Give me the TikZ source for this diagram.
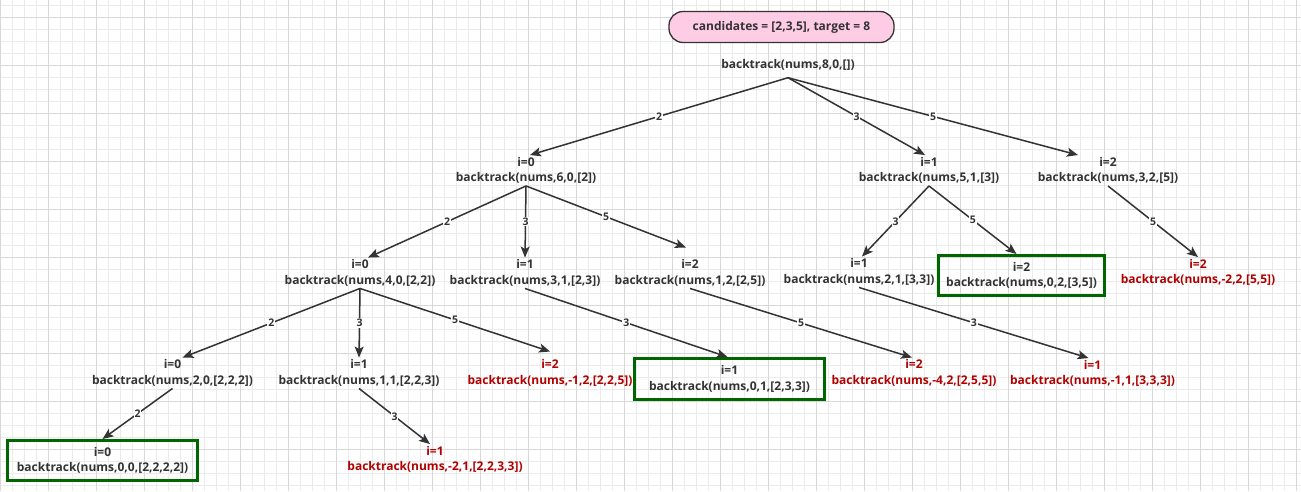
\documentclass[tikz,border=0pt]{standalone}
\usepackage{fontspec}
\setmainfont{Open Sans}
\usetikzlibrary{arrows.meta}
\definecolor{txt}{HTML}{333333}
\definecolor{dred}{HTML}{B20000}
\definecolor{gbox}{HTML}{006600}
\definecolor{pinkf}{HTML}{FFCCE6}
\definecolor{gridminor}{HTML}{EBEBEB}
\definecolor{gridmajor}{HTML}{D8D8D8}
\begin{document}
\begin{tikzpicture}[x=1pt,y=-1pt,
  every node/.style={font=\fontsize{12}{15.5}\selectfont\bfseries, text=txt},
  call/.style={align=center, inner xsep=2pt, inner ysep=2pt},
  bad/.style={call, text=dred},
  good/.style={call, draw=gbox, line width=3pt, minimum width=190pt, minimum height=40pt},
  edge/.style={draw=txt, line width=1.5pt, -{Stealth[length=11pt,width=9pt,inset=2.5pt]}},
  elab/.style={fill=white, inner sep=0.8pt, font=\fontsize{10.5}{11}\selectfont\bfseries, text=txt},
  gminor/.style={draw=gridminor, line width=1pt},
  gmajor/.style={draw=gridmajor, line width=1pt}]
\useasboundingbox (0,0) rectangle (1301,491);
\fill[white] (0,0) rectangle (1301,491);
% grid
\foreach \i in {0,...,108} \draw[gminor] ({0.7+12*\i},0) -- ++(0,491);
\foreach \j in {0,...,40} \draw[gminor] (0,{5.3+12*\j}) -- ++(1301,0);
\foreach \i in {0,...,27} \draw[gmajor] ({0.7+48*\i},0) -- ++(0,491);
\foreach \j in {0,...,9} \draw[gmajor] (0,{17.3+48*\j}) -- ++(1301,0);

% title
\node[draw=txt, line width=1.3pt, fill=pinkf, rounded corners=14pt,
      minimum width=225pt, minimum height=31pt] (title) at (781.5,27)
      {candidates = [2,3,5], target = 8};

% nodes
\node[call, inner ysep=7pt] (root) at (788,65) {backtrack(nums,8,0,[])};
\node[call] (A) at (526,170.5) {i=0\\backtrack(nums,6,0,[2])};
\node[call] (B) at (929,170.5) {i=1\\backtrack(nums,5,1,[3])};
\node[call] (C) at (1108,170.5) {i=2\\backtrack(nums,3,2,[5])};

\node[call] (A0) at (360,273) {i=0\\backtrack(nums,4,0,[2,2])};
\node[call] (A1) at (525,273) {i=1\\backtrack(nums,3,1,[2,3])};
\node[call] (A2) at (690,273) {i=2\\backtrack(nums,1,2,[2,5])};
\node[call] (B1) at (859,272) {i=1\\backtrack(nums,2,1,[3,3])};
\node[good, minimum width=166pt] (B2) at (1021.5,275.5) {i=2\\backtrack(nums,0,2,[3,5])};
\node[bad] (C2) at (1198,272.5) {i=2\\backtrack(nums,-2,2,[5,5])};

\node[call] (A00) at (172.5,373) {i=0\\backtrack(nums,2,0,[2,2,2])};
\node[call] (A01) at (359,373) {i=1\\backtrack(nums,1,1,[2,2,3])};
\node[bad] (A02) at (550,373) {i=2\\backtrack(nums,-1,2,[2,2,5])};
\node[good, minimum height=41pt] (A11) at (729.5,379) {i=1\\backtrack(nums,0,1,[2,3,3])};
\node[bad] (A22) at (914,373) {i=2\\backtrack(nums,-4,2,[2,5,5])};
\node[bad] (B11) at (1092.5,373.5) {i=1\\backtrack(nums,-1,1,[3,3,3])};

\node[good] (A000) at (102.5,460.5) {i=0\\backtrack(nums,0,0,[2,2,2,2])};
\node[bad] (A011) at (435,459.5) {i=1\\backtrack(nums,-2,1,[2,2,3,3])};

% edges
\draw[edge] (root.south) -- node[elab]{2} ([xshift=4pt]A.north);
\draw[edge] (root.south) -- node[elab]{3} ([xshift=-4pt]B.north);
\draw[edge] (root.south) -- node[elab]{5} ([xshift=-30pt]C.north);

\draw[edge] (A.south) -- node[elab]{2} ([xshift=8pt]A0.north);
\draw[edge] (A.south) -- node[elab]{3} (A1.north);
\draw[edge] (A.south) -- node[elab]{5} ([xshift=-4pt,yshift=10pt]A2.north);

\draw[edge] (B.south) -- node[elab]{3} ([xshift=3pt]B1.north);
\draw[edge] (B.south) -- node[elab]{5} ([xshift=-5pt]B2.north);
\draw[edge] (C.south) -- node[elab]{5} (C2.north);

\draw[edge] (A0.south) -- node[elab]{2} ([xshift=10pt]A00.north);
\draw[edge] (A0.south) -- node[elab]{3} (A01.north);
\draw[edge] (A0.south) -- node[elab]{5} ([yshift=6pt]A02.north);
\draw[edge] (A1.south) -- node[elab]{3} ([xshift=-2pt]A11.north);
\draw[edge] (A2.south) -- node[elab]{5} ([xshift=-2pt]A22.north);
\draw[edge] (B1.south) -- node[elab]{3} ([xshift=-4pt]B11.north);

\draw[edge] (A00.south) -- node[elab]{2} (A000.north);
\draw[edge] (A01.south) -- node[elab]{3} ([xshift=-5pt]A011.north);
\end{tikzpicture}
\end{document}
